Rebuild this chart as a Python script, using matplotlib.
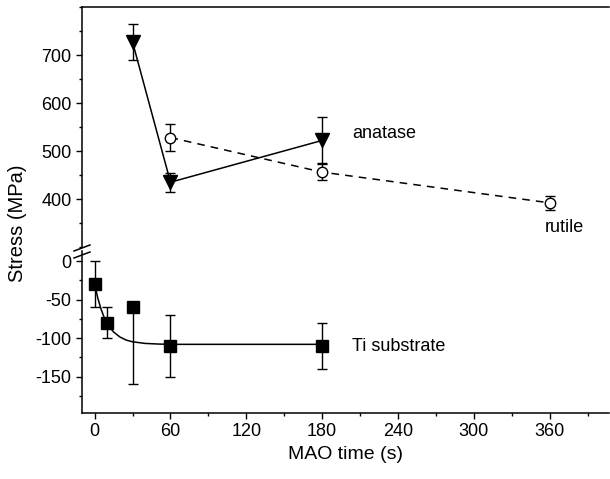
import matplotlib
matplotlib.use('Agg')
import matplotlib.pyplot as plt
from matplotlib.lines import Line2D
from matplotlib.ticker import MultipleLocator

plt.rcParams['font.family'] = ['Liberation Sans', 'DejaVu Sans']
plt.rcParams['font.size'] = 13
plt.rcParams['axes.unicode_minus'] = False

# anatase (filled down triangles, solid line)
anatase_t = [30, 60, 180]
anatase_s = [727, 435, 522]
anatase_err = [38, 20, 48]

# rutile (open circles, dashed line)
rutile_t = [60, 180, 360]
rutile_s = [528, 456, 392]
rutile_err = [29, 17, 15]

# Ti substrate (filled squares)
ti_t = [0, 10, 30, 60, 180]
ti_s = [-30, -80, -60, -110, -110]
ti_err_lo = [30, 20, 100, 40, 30]
ti_err_hi = [30, 20, 0, 40, 30]

# fitted decay curve through the Ti points
fit_t = [0, 2.5, 5, 7.5, 10, 12.5, 15, 20, 25, 30, 40, 50, 60, 90, 120, 180]
fit_s = [-30, -48, -62, -73, -81, -87, -92, -98.5, -102.5, -104.7, -106.8, -107.6, -108, -108, -108, -108]

W, H = 610, 479
fig = plt.figure(figsize=(W / 100, H / 100), dpi=100)

left, right = 82 / W, 609 / W
ax_top = fig.add_axes([left, 1 - 247 / H, right - left, (247 - 7) / H])
ax_bot = fig.add_axes([left, 1 - 413 / H, right - left, (413 - 251) / H])

for ax in (ax_top, ax_bot):
    ax.set_xlim(-10, 407)
    ax.spines['right'].set_visible(False)
    ax.tick_params(direction='out', length=4.5, width=1, labelsize=13, pad=3)
    ax.tick_params(which='minor', direction='out', length=2.5, width=1)
    for s in ax.spines.values():
        s.set_linewidth(1.1)

ax_top.set_ylim(300, 800)
ax_top.yaxis.set_minor_locator(MultipleLocator(50))
ax_top.set_yticks([400, 500, 600, 700])
ax_top.spines['bottom'].set_visible(False)
ax_top.tick_params(axis='x', which='both', bottom=False, labelbottom=False)

ax_bot.set_ylim(-197, 13)
ax_bot.set_yticks([-150, -100, -50, 0])
ax_bot.yaxis.set_minor_locator(MultipleLocator(25))
ax_bot.spines['top'].set_visible(False)
ax_bot.set_xticks([0, 60, 120, 180, 240, 300, 360])
ax_bot.xaxis.set_minor_locator(MultipleLocator(30))
ax_bot.set_xlabel('MAO time (s)', fontsize=14, labelpad=4)

# anatase
ax_top.errorbar(anatase_t, anatase_s, yerr=anatase_err, fmt='none', ecolor='black',
                elinewidth=1, capsize=3.5, capthick=1, zorder=2)
ax_top.plot(anatase_t, anatase_s, '-', color='black', lw=1.1, marker='v', ms=10,
            mfc='black', mec='black', zorder=3)

# rutile
ax_top.errorbar(rutile_t, rutile_s, yerr=rutile_err, fmt='none', ecolor='black',
                elinewidth=1, capsize=3.5, capthick=1, zorder=2)
ax_top.plot(rutile_t, rutile_s, '--', color='black', lw=1.1, dashes=(5, 4), marker='o', ms=7.5,
            mfc='white', mec='black', mew=1, zorder=4)

ax_top.text(204, 537, 'anatase', fontsize=13, va='center', ha='left')
ax_top.text(372, 341, 'rutile', fontsize=13, va='center', ha='center')

# Ti substrate
ax_bot.plot(fit_t, fit_s, '-', color='black', lw=1.1, zorder=2)
ax_bot.errorbar(ti_t, ti_s, yerr=[ti_err_lo, ti_err_hi], fmt='none', ecolor='black',
                elinewidth=1, capsize=3.5, capthick=1, zorder=2)
ax_bot.plot(ti_t, ti_s, 's', color='black', ms=8, zorder=3)
ax_bot.text(204, -111, 'Ti substrate', fontsize=13, va='center', ha='left')

# axis break marks
for y0 in (251, 258):
    fig.add_artist(Line2D([74 / W, 90 / W], [1 - y0 / H, 1 - (y0 - 6) / H],
                          color='black', lw=1.1, transform=fig.transFigure))

fig.text(18 / W, 1 - 223 / H, 'Stress (MPa)', rotation=90, fontsize=14.5,
         ha='center', va='center')

plt.savefig('out.png', dpi=100)
